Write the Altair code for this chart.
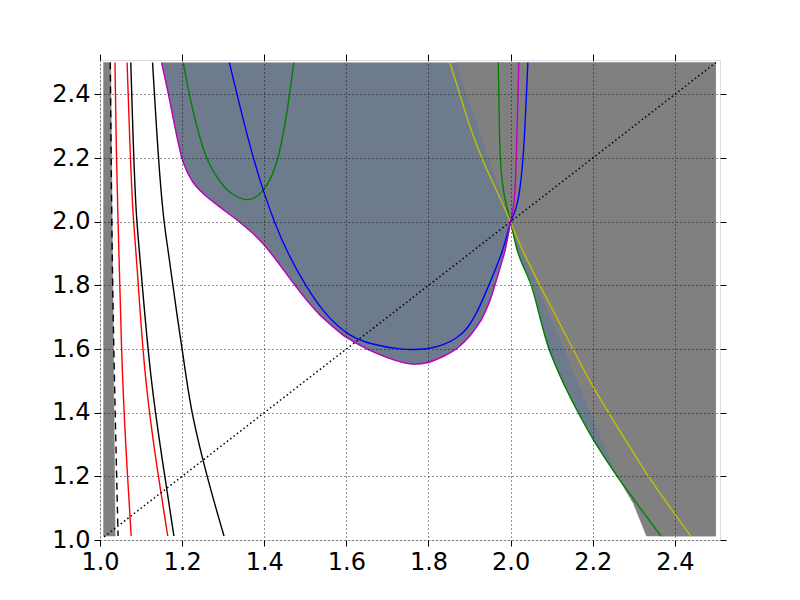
import altair as alt
import pandas as pd

# ---- curves (data coordinates) ----
mag_x = [1.150, 1.167, 1.182, 1.198, 1.212, 1.227, 1.245, 1.262, 1.281, 1.301, 1.322, 1.341, 1.365,
         1.398, 1.432, 1.470, 1.505, 1.536, 1.593, 1.650, 1.700, 1.740, 1.763, 1.800, 1.836, 1.869,
         1.901, 1.930, 1.950, 1.965, 1.988, 2.000, 2.006, 2.010, 2.014, 2.017, 2.020]
mag_y = [2.500, 2.400, 2.300, 2.200, 2.155, 2.121, 2.095, 2.076, 2.057, 2.037, 2.017, 1.998, 1.972,
         1.932, 1.875, 1.808, 1.750, 1.704, 1.640, 1.599, 1.572, 1.556, 1.551, 1.556, 1.576, 1.599,
         1.639, 1.691, 1.750, 1.815, 1.911, 2.000, 2.040, 2.070, 2.196, 2.350, 2.500]
MAG_SPLIT = 31  # index of the point (2.0, 2.0)

blue_x = [1.315, 1.343, 1.373, 1.397, 1.424, 1.457, 1.500, 1.552, 1.609, 1.658, 1.731, 1.800,
          1.836, 1.869, 1.893, 1.917, 1.934, 1.960, 1.982, 2.000, 2.010, 2.020, 2.031, 2.037, 2.042]
blue_y = [2.500, 2.350, 2.200, 2.100, 2.000, 1.900, 1.800, 1.701, 1.639, 1.616, 1.597, 1.599,
          1.612, 1.634, 1.660, 1.712, 1.760, 1.840, 1.911, 2.000, 2.030, 2.068, 2.196, 2.350, 2.500]
BLUE_SPLIT = 19

green1_x = [1.203, 1.217, 1.235, 1.258, 1.275, 1.295, 1.320, 1.353, 1.377, 1.400, 1.418, 1.434,
            1.450, 1.462, 1.472]
green1_y = [2.500, 2.400, 2.300, 2.200, 2.160, 2.120, 2.085, 2.066, 2.072, 2.099, 2.140, 2.196,
            2.300, 2.400, 2.500]

green2_x = [1.970, 1.972, 1.974, 1.980, 1.986, 2.000, 2.007, 2.015, 2.030, 2.051, 2.071, 2.092,
            2.128, 2.165, 2.201, 2.258, 2.313, 2.366]
green2_y = [2.500, 2.350, 2.196, 2.120, 2.068, 2.000, 1.960, 1.911, 1.860, 1.806, 1.701, 1.599,
            1.492, 1.398, 1.314, 1.201, 1.105, 1.0126]
GREEN2_SPLIT = 5

yellow_x = [1.852, 1.877, 1.900, 1.930, 1.966, 2.000, 2.027, 2.090, 2.153, 2.201, 2.288, 2.335,
            2.387, 2.4386]
yellow_y = [2.500, 2.398, 2.300, 2.196, 2.099, 2.000, 1.911, 1.754, 1.597, 1.477, 1.298, 1.199,
            1.105, 1.0126]

black2_x = [1.128, 1.142, 1.155, 1.166, 1.188, 1.211, 1.223, 1.260, 1.302]
black2_y = [2.500, 2.196, 2.000, 1.911, 1.700, 1.503, 1.399, 1.199, 1.0126]
black1_x = [1.075, 1.082, 1.089, 1.096, 1.122, 1.158, 1.180]
black1_y = [2.500, 2.196, 2.000, 1.911, 1.503, 1.199, 1.0126]
red2_x = [1.066, 1.074, 1.081, 1.088, 1.108, 1.142, 1.165]
red2_y = [2.500, 2.196, 2.000, 1.911, 1.503, 1.199, 1.0126]
red1_x = [1.0365, 1.040, 1.044, 1.046, 1.054, 1.067, 1.076]
red1_y = [2.500, 2.196, 1.998, 1.911, 1.503, 1.199, 1.0126]
dash_x = [1.025, 1.029, 1.035, 1.044]
dash_y = [2.500, 1.911, 1.503, 1.0126]
diag_x = [1.01, 2.50]
diag_y = [1.01, 2.50]

# shaded regions
grey_right_x = [1.867, 2.000, 2.260, 2.299, 2.331, 2.499, 2.499]
grey_right_y = [2.500, 2.000, 1.200, 1.115, 1.0126, 1.0126, 2.500]
grey_left_x = [1.008, 1.026, 1.037, 1.008]
grey_left_y = [2.500, 2.500, 1.0126, 1.0126]
edge_x = [2.499, 2.499]
edge_y = [1.0126, 2.500]

ticks = [1.0, 1.2, 1.4, 1.6, 1.8, 2.0, 2.2, 2.4]

# ---- chart ----
XS = alt.Scale(domain=[1.0, 2.51], nice=False, zero=False)
YS = alt.Scale(domain=[1.0, 2.508], nice=False, zero=False)
FONT = "DejaVu Sans"


def frame(xs, ys):
    return pd.DataFrame({"x": xs, "y": ys, "i": list(range(len(xs)))})


def layer(df, mark):
    return alt.Chart(df).mark_line(clip=True, **mark).encode(
        x=alt.X("x:Q", scale=XS, axis=None),
        y=alt.Y("y:Q", scale=YS, axis=None),
        order=alt.Order("i:Q"),
    )


def poly(xs, ys, color):
    return layer(frame(xs, ys), dict(fill=color, stroke=color, strokeWidth=0.5, interpolate="linear"))


def curve(xs, ys, color, dash=None, width=1.4, interp="basis"):
    m = dict(stroke=color, strokeWidth=width, interpolate=interp)
    if dash is not None:
        m["strokeDash"] = dash
    return layer(frame(xs, ys), m)


common_axis = dict(
    values=ticks, tickSize=6, tickColor="black", tickWidth=1, domain=False, title=None,
    labelFont=FONT, labelFontSize=24, labelColor="black", labelPadding=4,
    labelFlush=False, labelOverlap=False, zindex=1,
)

axis_main = alt.Chart(frame([1.5], [1.5])).mark_point(opacity=0).encode(
    x=alt.X("x:Q", scale=XS, axis=alt.Axis(orient="bottom", format=".1f", grid=True,
                                            gridColor="black", gridDash=[1, 3], gridWidth=1,
                                            gridOpacity=0.85, **common_axis)),
    y=alt.Y("y:Q", scale=YS, axis=alt.Axis(orient="left", format=".1f", grid=True,
                                            gridColor="black", gridDash=[1, 3], gridWidth=1,
                                            gridOpacity=0.85, **common_axis)),
)
axis_other = alt.Chart(frame([1.5], [1.5])).mark_point(opacity=0).encode(
    x=alt.X("x:Q", scale=XS, axis=alt.Axis(orient="top", labels=False, grid=False, **common_axis)),
    y=alt.Y("y:Q", scale=YS, axis=alt.Axis(orient="right", labels=False, grid=False, **common_axis)),
)

slate_x = mag_x[:MAG_SPLIT + 1] + green2_x[GREEN2_SPLIT + 1:] + edge_x
slate_y = mag_y[:MAG_SPLIT + 1] + green2_y[GREEN2_SPLIT + 1:] + edge_y

SLATE = "#6e7b8c"
GREY = "#808080"

layers = [
    poly(slate_x, slate_y, SLATE),
    poly(grey_right_x, grey_right_y, GREY),
    poly(grey_left_x, grey_left_y, GREY),
    curve(black2_x, black2_y, "black"),
    curve(black1_x, black1_y, "black"),
    curve(red2_x, red2_y, "#ff0000"),
    curve(red1_x, red1_y, "#ff0000"),
    curve(dash_x, dash_y, "black", dash=[7, 5]),
    curve(diag_x, diag_y, "black", dash=[1.5, 2.7], width=1.5, interp="linear"),
    curve(green1_x, green1_y, "#008000"),
    curve(green2_x[:GREEN2_SPLIT + 1], green2_y[:GREEN2_SPLIT + 1], "#008000"),
    curve(green2_x[GREEN2_SPLIT:], green2_y[GREEN2_SPLIT:], "#008000"),
    curve(yellow_x, yellow_y, "#bfbf00"),
    curve(blue_x[:BLUE_SPLIT + 1], blue_y[:BLUE_SPLIT + 1], "#0000ff"),
    curve(blue_x[BLUE_SPLIT:], blue_y[BLUE_SPLIT:], "#0000ff"),
    curve(mag_x[:MAG_SPLIT + 1], mag_y[:MAG_SPLIT + 1], "#bf00bf"),
    curve(mag_x[MAG_SPLIT:], mag_y[MAG_SPLIT:], "#bf00bf"),
    axis_main,
    axis_other,
]

chart = alt.layer(*layers).resolve_axis(x="independent", y="independent").properties(
    width=620, height=480,
    autosize=alt.AutoSizeParams(type="none"),
    padding={"left": 92, "top": 52, "right": 72, "bottom": 52},
).configure_view(stroke="black", strokeWidth=1.2).configure(background="white")

chart.save("out.html", embed_options={"renderer": "svg", "actions": False})
